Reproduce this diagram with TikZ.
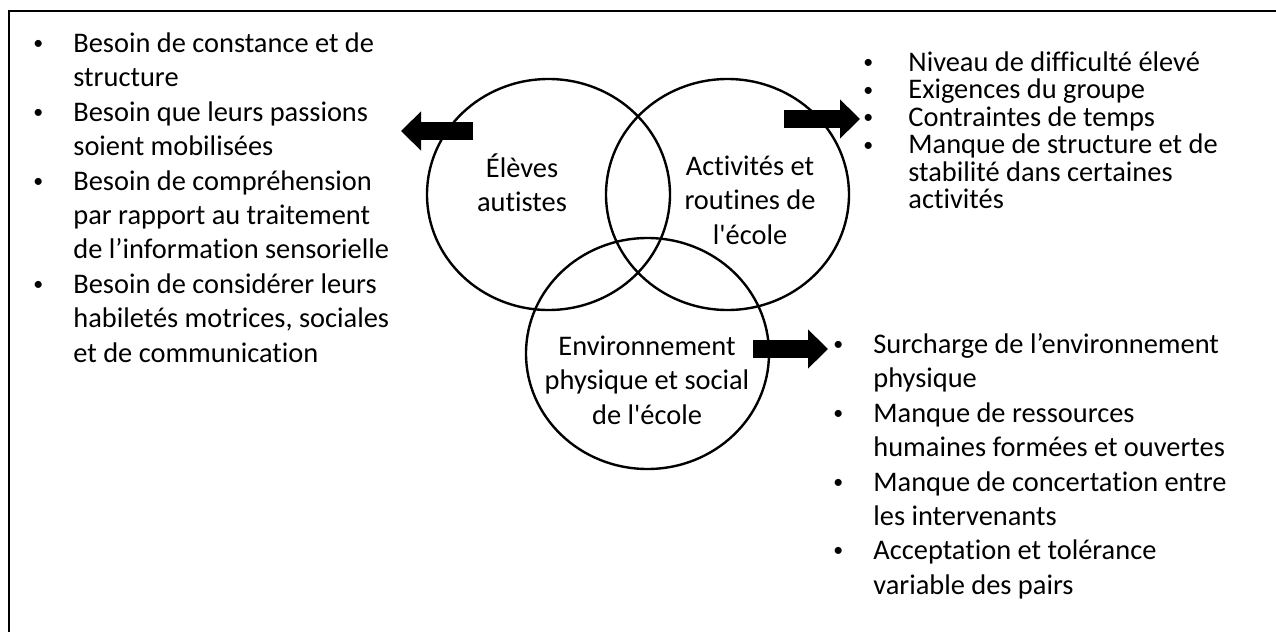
\documentclass[tikz,border=0pt]{standalone}
\usepackage{fontspec}
\usepackage{tikz,tkz-euclide}
\usetikzlibrary{arrows.meta,positioning}
\newfontfamily\carlito{Carlito}[Ligatures=NoCommon]
\newcommand{\bul}[1][35pt]{\makebox[#1][c]{\raisebox{0.1em}{\scalebox{0.7}{\textbullet}}}}
\newcommand{\nobul}[1][35pt]{\hspace*{#1}}
\newcommand{\firstline}{\rule{0pt}{12pt}}
\newcommand{\tightlines}{\fontsize{14.2}{13.75}\selectfont\lineskiplimit=-20pt\relax}

\begin{document}
\begin{tikzpicture}[x=0.5pt,y=-0.5pt,
  ring/.style={line width=1.2pt},
  blockarrow/.style={line width=9pt,line cap=butt,-{Triangle[width=19pt,length=10pt]}},
  listtxt/.style={font=\carlito\fontsize{14.2}{17.2}\selectfont,align=left,inner sep=0pt,anchor=north west},
  tag/.style={font=\carlito\fontsize{14.2}{17.2}\selectfont,align=center,inner sep=0pt,anchor=north}]
  \useasboundingbox (0,0) rectangle (1276,632);
  \tkzDefPoints{548.5/194.5/el, 727.5/194.5/ac, 647.5/353.5/en, 9/632/f1, 9/11/f2, 1276/11/f3}
  \tkzDefPoints{473/131/l1, 401/131/l2, 784/119/r1, 860/119/r2, 753/349/b1, 828/349/b2}
  % frame
  \draw[line width=1.3pt] (f1) -- (f2) -- (f3);
  % the three circles
  \foreach \c in {el,ac,en} \draw[ring] (\c) ellipse [x radius=60.75pt, y radius=57.75pt];
  \node[tag] (eleves) at (522,153) {\firstline Élèves\\autistes};
  \node[tag] (activites) at (750,151) {\firstline Activités et\\routines de\\l'école};
  \node[tag] (milieu) at (647,331) {\firstline Environnement\\physique et social\\de l'école};
  \tkzDrawSegments[blockarrow](l1,l2 r1,r2 b1,b2)
  % lists
  \node[listtxt] (needs) at (3,28) {\firstline\bul Besoin de constance et de\\
    \nobul structure\\
    \bul Besoin que leurs passions\\
    \nobul soient mobilisées\\
    \bul Besoin de compréhension\\
    \nobul par rapport au traitement\\
    \nobul de l’information sensorielle\\
    \bul Besoin de considérer leurs\\
    \nobul habiletés motrices, sociales\\
    \nobul et de communication};
  \node[listtxt,font=\carlito\tightlines] (demands) at (828,47)
    {\firstline\bul[40pt]Niveau de difficulté élevé\\
    \bul[40pt]Exigences du groupe\\
    \bul[40pt]Contraintes de temps\\
    \bul[40pt]Manque de structure et de\\
    \nobul[40pt]stabilité dans certaines\\
    \nobul[40pt]activités};
  \node[listtxt] (barriers) at (803,329) {\firstline\bul Surcharge de l’environnement\\
    \nobul physique\\
    \bul Manque de ressources\\
    \nobul humaines formées et ouvertes\\
    \bul Manque de concertation entre\\
    \nobul les intervenants\\
    \bul Acceptation et tolérance\\
    \nobul variable des pairs};
\end{tikzpicture}
\end{document}
